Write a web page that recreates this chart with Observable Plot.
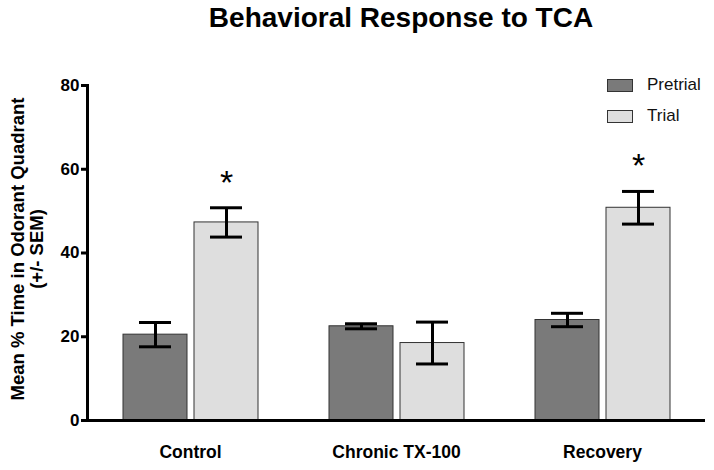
<!DOCTYPE html>
<html>
<head>
<meta charset="utf-8">
<script src="https://cdn.jsdelivr.net/npm/d3@7"></script>
<script src="https://cdn.jsdelivr.net/npm/@observablehq/plot@0.6"></script>
<style>
  html, body { margin: 0; padding: 0; background: #fff; }
  #wrap { position: relative; width: 714px; height: 470px; font-family: "Liberation Sans", Arial, sans-serif; }
  #title { position: absolute; left: 92px; width: 618px; top: 4px; text-align: center; font-size: 28px; line-height: 28px; font-weight: bold; color: #000; }
  #ylabel { position: absolute; left: 27px; top: 249px; transform: translate(-50%, -50%) rotate(-90deg); text-align: center; white-space: nowrap; font-size: 18.5px; line-height: 19px; font-weight: bold; color: #000; }
  .leg { position: absolute; left: 607px; display: flex; align-items: center; font-size: 17px; color: #111; }
  .sw { width: 24px; height: 11px; border: 1px solid #333; margin-right: 14px; }
  #plot { position: absolute; left: 0; top: 0; }
</style>
</head>
<body>
<div id="wrap">
  <div id="plot"></div>
  <div id="title">Behavioral Response to TCA</div>
  <div id="ylabel">Mean % Time in Odorant Quadrant<br>(+/- SEM)</div>
  <div id="legend"></div>
</div>
<script>
const groups = ["Control", "Chronic TX-100", "Recovery"];
const series = ["Pretrial", "Trial"];
const colors = ["#7a7a7a", "#dedede"];
const pretrialMean = [20.5, 22.5, 24.0];
const pretrialSem = [2.9, 0.6, 1.6];
const trialMean = [47.3, 18.5, 50.8];
const trialSem = [3.5, 5.0, 3.9];
const trialSignificant = [true, false, true];
const yTicks = [0, 20, 40, 60, 80];

const rows = [];
groups.forEach((g, i) => {
  rows.push({group: g, series: "Pretrial", value: pretrialMean[i], sem: pretrialSem[i], sig: false});
  rows.push({group: g, series: "Trial", value: trialMean[i], sem: trialSem[i], sig: trialSignificant[i]});
});
rows.forEach(d => { d.lo = d.value - d.sem; d.hi = d.value + d.sem; });

const chart = Plot.plot({
  width: 714,
  height: 470,
  marginTop: 85,
  marginBottom: 50,
  marginLeft: 87,
  marginRight: 9,
  style: {fontFamily: "Liberation Sans, Arial, sans-serif", fontWeight: "bold", color: "#000", background: "transparent"},
  fx: {domain: groups, padding: 0, label: null},
  x: {domain: series, paddingInner: 0.1, paddingOuter: 0.5, axis: null},
  y: {domain: [0, 80], label: null},
  color: {domain: series, range: colors},
  marks: [
    Plot.barY(rows, {fx: "group", x: "series", y: "value", fill: "series", stroke: "#333", strokeWidth: 1}),
    Plot.ruleX(rows, {fx: "group", x: "series", y1: "lo", y2: "hi", stroke: "#000", strokeWidth: 3}),
    Plot.tickY(rows, {fx: "group", x: "series", y: "hi", stroke: "#000", strokeWidth: 3, insetLeft: 16, insetRight: 16}),
    Plot.tickY(rows, {fx: "group", x: "series", y: "lo", stroke: "#000", strokeWidth: 3, insetLeft: 16, insetRight: 16}),
    Plot.text(rows.filter(d => d.sig), {fx: "group", x: "series", y: "hi", text: () => "*", fontSize: 34, fontWeight: "normal", dy: -25, fill: "#000"}),
    Plot.ruleY([0], {stroke: "#000", strokeWidth: 3}),
    Plot.frame({anchor: "left", stroke: "#000", strokeWidth: 3, facetAnchor: "left"}),
    Plot.axisY({ticks: yTicks, tickSize: 6, tickPadding: 2, fontSize: 17, strokeWidth: 3, label: null}),
    Plot.axisFx({anchor: "bottom", tickSize: 0, tickPadding: 25, fontSize: 17.5, label: null})
  ]
});
document.getElementById("plot").appendChild(chart);

const legend = document.getElementById("legend");
series.forEach((s, i) => {
  const item = document.createElement("div");
  item.className = "leg";
  item.style.top = (76 + i * 31) + "px";
  item.style.height = "18px";
  const sw = document.createElement("div");
  sw.className = "sw";
  sw.style.background = colors[i];
  const t = document.createElement("span");
  t.textContent = s;
  item.appendChild(sw);
  item.appendChild(t);
  legend.appendChild(item);
});
</script>
</body>
</html>
